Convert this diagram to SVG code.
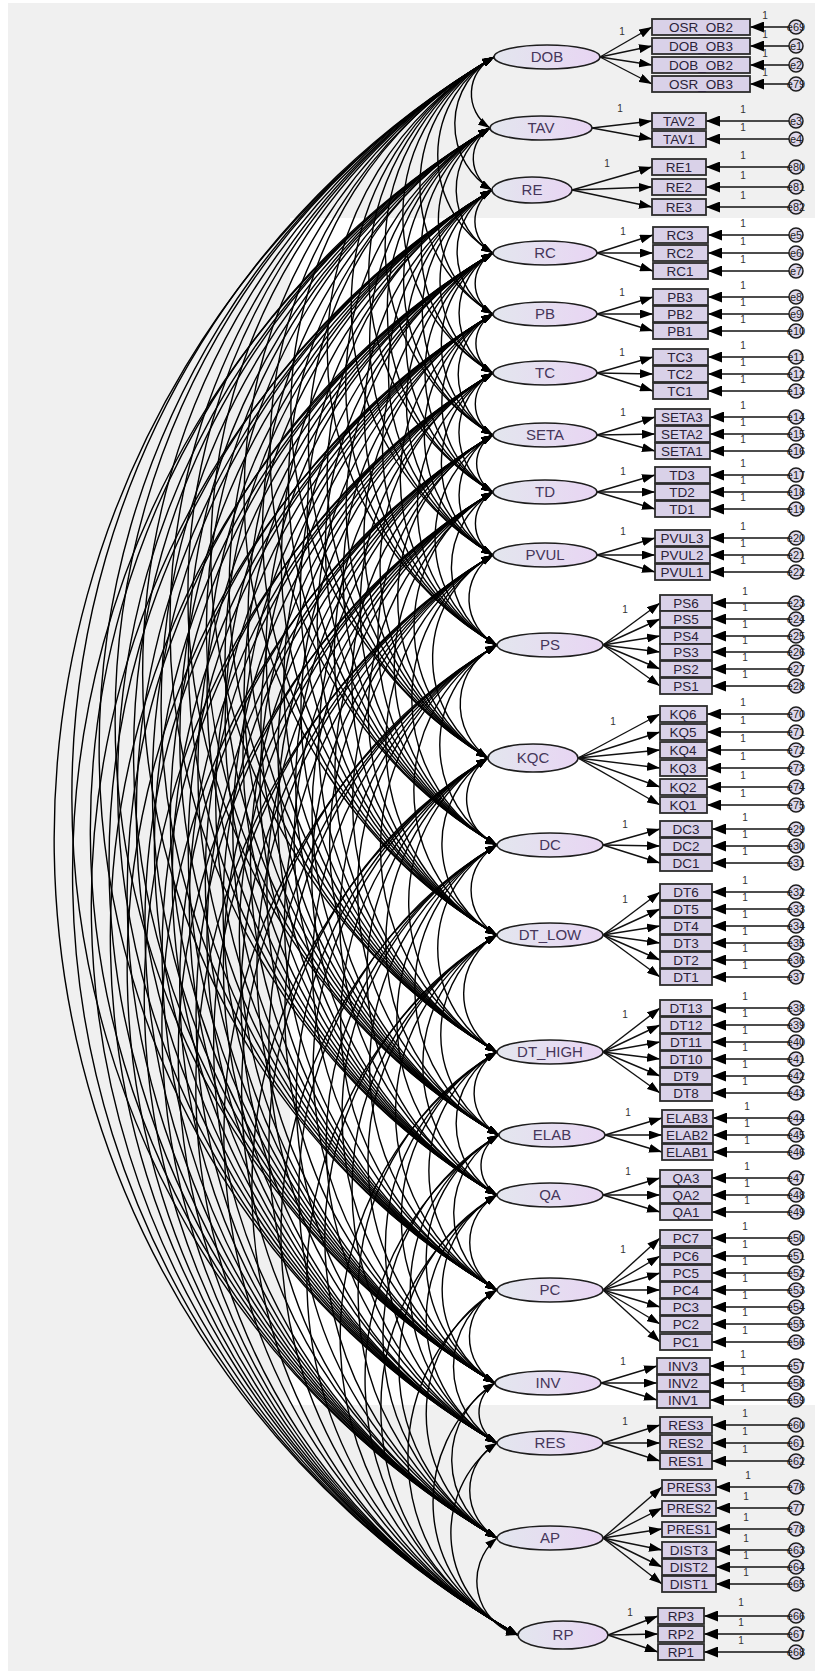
<svg xmlns="http://www.w3.org/2000/svg" width="815" height="1671" viewBox="0 0 815 1671">
<defs>
<linearGradient id="lg" x1="0" y1="0" x2="1" y2="0"><stop offset="0" stop-color="#e3e6ee"/><stop offset="1" stop-color="#e8d5f3"/></linearGradient>
<marker id="cov" markerUnits="userSpaceOnUse" markerWidth="12" markerHeight="8" refX="12" refY="4" orient="auto-start-reverse"><path d="M0,0L12,4L0,8z" fill="#000"/></marker>
<marker id="ld" markerUnits="userSpaceOnUse" markerWidth="13" markerHeight="9" refX="13" refY="4.5" orient="auto"><path d="M0,0L13,4.5L0,9z" fill="#000"/></marker>
<marker id="er" markerUnits="userSpaceOnUse" markerWidth="14" markerHeight="11" refX="14" refY="5.5" orient="auto"><path d="M0,0L14,5.5L0,11z" fill="#000"/></marker>
<style>
.cv path{fill:none;stroke:#000;stroke-width:1.4;marker-start:url(#cov);marker-end:url(#cov)}
.lo path{fill:none;stroke:#111;stroke-width:1.4;marker-end:url(#ld)}
.ea path{fill:none;stroke:#111;stroke-width:1.5;marker-end:url(#er)}
.lat ellipse{fill:url(#lg);stroke:#1e1e1e;stroke-width:1.6}
.lat text{font-family:"Liberation Sans",Arial,sans-serif;font-size:15px;fill:#45365a;text-anchor:middle}
.box rect{fill:#d9d1e8;stroke:#2c2c2c;stroke-width:1.8}
.box text{font-family:"Liberation Sans",Arial,sans-serif;font-size:13.5px;fill:#2a2238;text-anchor:middle}
.err circle{fill:#ddd7ea;stroke:#1e1e1e;stroke-width:1.5}
.err text{font-family:"Liberation Sans",Arial,sans-serif;font-size:11px;fill:#1e1e1e;text-anchor:middle}
.one{font-family:"Liberation Sans",Arial,sans-serif;font-size:10px;fill:#333;text-anchor:middle}
</style>
</defs>
<rect x="0" y="0" width="815" height="1671" fill="#ffffff"/>
<rect x="8" y="3" width="807" height="1668" fill="#f0f0f0"/>
<rect x="290" y="218" width="525" height="1187" fill="#ffffff"/>
<g id="connectors">
<g class="cv">
<path d="M494 57A41 41 0 0 0 490 128"/><path d="M494 57A77 77 0 0 0 492 190"/><path d="M494 57A114 114 0 0 0 493 253"/><path d="M494 57A149 149 0 0 0 493 314"/><path d="M494 57A183 183 0 0 0 493 373"/><path d="M494 57A219 219 0 0 0 493 435"/><path d="M494 57A252 252 0 0 0 493 492"/><path d="M494 57A289 289 0 0 0 493 555"/><path d="M494 57A341 341 0 0 0 497 645"/><path d="M494 57A407 407 0 0 0 488 758"/><path d="M494 57A457 457 0 0 0 497 845"/><path d="M494 57A509 509 0 0 0 497 935"/><path d="M494 57A577 577 0 0 0 497 1052"/><path d="M494 57A625 625 0 0 0 499 1135"/><path d="M494 57A660 660 0 0 0 497 1195"/><path d="M494 57A715 715 0 0 0 497 1290"/><path d="M494 57A769 769 0 0 0 495 1383"/><path d="M494 57A804 804 0 0 0 497 1443"/><path d="M494 57A859 859 0 0 0 497 1538"/><path d="M494 57A915 915 0 0 0 518 1635"/>
<path d="M490 128A36 36 0 0 0 492 190"/><path d="M490 128A73 73 0 0 0 493 253"/><path d="M490 128A108 108 0 0 0 493 314"/><path d="M490 128A142 142 0 0 0 493 373"/><path d="M490 128A178 178 0 0 0 493 435"/><path d="M490 128A211 211 0 0 0 493 492"/><path d="M490 128A248 248 0 0 0 493 555"/><path d="M490 128A300 300 0 0 0 497 645"/><path d="M490 128A365 365 0 0 0 488 758"/><path d="M490 128A416 416 0 0 0 497 845"/><path d="M490 128A468 468 0 0 0 497 935"/><path d="M490 128A536 536 0 0 0 497 1052"/><path d="M490 128A584 584 0 0 0 499 1135"/><path d="M490 128A619 619 0 0 0 497 1195"/><path d="M490 128A674 674 0 0 0 497 1290"/><path d="M490 128A728 728 0 0 0 495 1383"/><path d="M490 128A763 763 0 0 0 497 1443"/><path d="M490 128A818 818 0 0 0 497 1538"/><path d="M490 128A874 874 0 0 0 518 1635"/>
<path d="M492 190A37 37 0 0 0 493 253"/><path d="M492 190A72 72 0 0 0 493 314"/><path d="M492 190A106 106 0 0 0 493 373"/><path d="M492 190A142 142 0 0 0 493 435"/><path d="M492 190A175 175 0 0 0 493 492"/><path d="M492 190A212 212 0 0 0 493 555"/><path d="M492 190A264 264 0 0 0 497 645"/><path d="M492 190A329 329 0 0 0 488 758"/><path d="M492 190A380 380 0 0 0 497 845"/><path d="M492 190A432 432 0 0 0 497 935"/><path d="M492 190A500 500 0 0 0 497 1052"/><path d="M492 190A548 548 0 0 0 499 1135"/><path d="M492 190A583 583 0 0 0 497 1195"/><path d="M492 190A638 638 0 0 0 497 1290"/><path d="M492 190A692 692 0 0 0 495 1383"/><path d="M492 190A727 727 0 0 0 497 1443"/><path d="M492 190A782 782 0 0 0 497 1538"/><path d="M492 190A838 838 0 0 0 518 1635"/>
<path d="M493 253A35 35 0 0 0 493 314"/><path d="M493 253A70 70 0 0 0 493 373"/><path d="M493 253A106 106 0 0 0 493 435"/><path d="M493 253A139 139 0 0 0 493 492"/><path d="M493 253A175 175 0 0 0 493 555"/><path d="M493 253A227 227 0 0 0 497 645"/><path d="M493 253A293 293 0 0 0 488 758"/><path d="M493 253A343 343 0 0 0 497 845"/><path d="M493 253A396 396 0 0 0 497 935"/><path d="M493 253A463 463 0 0 0 497 1052"/><path d="M493 253A512 512 0 0 0 499 1135"/><path d="M493 253A546 546 0 0 0 497 1195"/><path d="M493 253A601 601 0 0 0 497 1290"/><path d="M493 253A655 655 0 0 0 495 1383"/><path d="M493 253A690 690 0 0 0 497 1443"/><path d="M493 253A745 745 0 0 0 497 1538"/><path d="M493 253A802 802 0 0 0 518 1635"/>
<path d="M493 314A34 34 0 0 0 493 373"/><path d="M493 314A70 70 0 0 0 493 435"/><path d="M493 314A103 103 0 0 0 493 492"/><path d="M493 314A140 140 0 0 0 493 555"/><path d="M493 314A192 192 0 0 0 497 645"/><path d="M493 314A258 258 0 0 0 488 758"/><path d="M493 314A308 308 0 0 0 497 845"/><path d="M493 314A360 360 0 0 0 497 935"/><path d="M493 314A428 428 0 0 0 497 1052"/><path d="M493 314A476 476 0 0 0 499 1135"/><path d="M493 314A511 511 0 0 0 497 1195"/><path d="M493 314A566 566 0 0 0 497 1290"/><path d="M493 314A620 620 0 0 0 495 1383"/><path d="M493 314A655 655 0 0 0 497 1443"/><path d="M493 314A710 710 0 0 0 497 1538"/><path d="M493 314A766 766 0 0 0 518 1635"/>
<path d="M493 373A36 36 0 0 0 493 435"/><path d="M493 373A69 69 0 0 0 493 492"/><path d="M493 373A106 106 0 0 0 493 555"/><path d="M493 373A158 158 0 0 0 497 645"/><path d="M493 373A223 223 0 0 0 488 758"/><path d="M493 373A274 274 0 0 0 497 845"/><path d="M493 373A326 326 0 0 0 497 935"/><path d="M493 373A394 394 0 0 0 497 1052"/><path d="M493 373A442 442 0 0 0 499 1135"/><path d="M493 373A477 477 0 0 0 497 1195"/><path d="M493 373A532 532 0 0 0 497 1290"/><path d="M493 373A586 586 0 0 0 495 1383"/><path d="M493 373A621 621 0 0 0 497 1443"/><path d="M493 373A676 676 0 0 0 497 1538"/><path d="M493 373A732 732 0 0 0 518 1635"/>
<path d="M493 435A33 33 0 0 0 493 492"/><path d="M493 435A70 70 0 0 0 493 555"/><path d="M493 435A122 122 0 0 0 497 645"/><path d="M493 435A187 187 0 0 0 488 758"/><path d="M493 435A238 238 0 0 0 497 845"/><path d="M493 435A290 290 0 0 0 497 935"/><path d="M493 435A358 358 0 0 0 497 1052"/><path d="M493 435A406 406 0 0 0 499 1135"/><path d="M493 435A441 441 0 0 0 497 1195"/><path d="M493 435A496 496 0 0 0 497 1290"/><path d="M493 435A550 550 0 0 0 495 1383"/><path d="M493 435A585 585 0 0 0 497 1443"/><path d="M493 435A640 640 0 0 0 497 1538"/><path d="M493 435A696 696 0 0 0 518 1635"/>
<path d="M493 492A37 37 0 0 0 493 555"/><path d="M493 492A89 89 0 0 0 497 645"/><path d="M493 492A154 154 0 0 0 488 758"/><path d="M493 492A205 205 0 0 0 497 845"/><path d="M493 492A257 257 0 0 0 497 935"/><path d="M493 492A325 325 0 0 0 497 1052"/><path d="M493 492A373 373 0 0 0 499 1135"/><path d="M493 492A408 408 0 0 0 497 1195"/><path d="M493 492A463 463 0 0 0 497 1290"/><path d="M493 492A517 517 0 0 0 495 1383"/><path d="M493 492A552 552 0 0 0 497 1443"/><path d="M493 492A607 607 0 0 0 497 1538"/><path d="M493 492A663 663 0 0 0 518 1635"/>
<path d="M493 555A52 52 0 0 0 497 645"/><path d="M493 555A118 118 0 0 0 488 758"/><path d="M493 555A168 168 0 0 0 497 845"/><path d="M493 555A220 220 0 0 0 497 935"/><path d="M493 555A288 288 0 0 0 497 1052"/><path d="M493 555A336 336 0 0 0 499 1135"/><path d="M493 555A371 371 0 0 0 497 1195"/><path d="M493 555A426 426 0 0 0 497 1290"/><path d="M493 555A480 480 0 0 0 495 1383"/><path d="M493 555A515 515 0 0 0 497 1443"/><path d="M493 555A570 570 0 0 0 497 1538"/><path d="M493 555A626 626 0 0 0 518 1635"/>
<path d="M497 645A66 66 0 0 0 488 758"/><path d="M497 645A116 116 0 0 0 497 845"/><path d="M497 645A168 168 0 0 0 497 935"/><path d="M497 645A236 236 0 0 0 497 1052"/><path d="M497 645A284 284 0 0 0 499 1135"/><path d="M497 645A319 319 0 0 0 497 1195"/><path d="M497 645A374 374 0 0 0 497 1290"/><path d="M497 645A428 428 0 0 0 495 1383"/><path d="M497 645A463 463 0 0 0 497 1443"/><path d="M497 645A518 518 0 0 0 497 1538"/><path d="M497 645A574 574 0 0 0 518 1635"/>
<path d="M488 758A50 50 0 0 0 497 845"/><path d="M488 758A103 103 0 0 0 497 935"/><path d="M488 758A171 171 0 0 0 497 1052"/><path d="M488 758A219 219 0 0 0 499 1135"/><path d="M488 758A253 253 0 0 0 497 1195"/><path d="M488 758A309 309 0 0 0 497 1290"/><path d="M488 758A363 363 0 0 0 495 1383"/><path d="M488 758A397 397 0 0 0 497 1443"/><path d="M488 758A452 452 0 0 0 497 1538"/><path d="M488 758A509 509 0 0 0 518 1635"/>
<path d="M497 845A52 52 0 0 0 497 935"/><path d="M497 845A120 120 0 0 0 497 1052"/><path d="M497 845A168 168 0 0 0 499 1135"/><path d="M497 845A203 203 0 0 0 497 1195"/><path d="M497 845A258 258 0 0 0 497 1290"/><path d="M497 845A312 312 0 0 0 495 1383"/><path d="M497 845A347 347 0 0 0 497 1443"/><path d="M497 845A402 402 0 0 0 497 1538"/><path d="M497 845A458 458 0 0 0 518 1635"/>
<path d="M497 935A68 68 0 0 0 497 1052"/><path d="M497 935A116 116 0 0 0 499 1135"/><path d="M497 935A151 151 0 0 0 497 1195"/><path d="M497 935A206 206 0 0 0 497 1290"/><path d="M497 935A260 260 0 0 0 495 1383"/><path d="M497 935A295 295 0 0 0 497 1443"/><path d="M497 935A350 350 0 0 0 497 1538"/><path d="M497 935A406 406 0 0 0 518 1635"/>
<path d="M497 1052A48 48 0 0 0 499 1135"/><path d="M497 1052A83 83 0 0 0 497 1195"/><path d="M497 1052A138 138 0 0 0 497 1290"/><path d="M497 1052A192 192 0 0 0 495 1383"/><path d="M497 1052A227 227 0 0 0 497 1443"/><path d="M497 1052A282 282 0 0 0 497 1538"/><path d="M497 1052A338 338 0 0 0 518 1635"/>
<path d="M499 1135A35 35 0 0 0 497 1195"/><path d="M499 1135A90 90 0 0 0 497 1290"/><path d="M499 1135A144 144 0 0 0 495 1383"/><path d="M499 1135A179 179 0 0 0 497 1443"/><path d="M499 1135A234 234 0 0 0 497 1538"/><path d="M499 1135A290 290 0 0 0 518 1635"/>
<path d="M497 1195A55 55 0 0 0 497 1290"/><path d="M497 1195A109 109 0 0 0 495 1383"/><path d="M497 1195A144 144 0 0 0 497 1443"/><path d="M497 1195A199 199 0 0 0 497 1538"/><path d="M497 1195A255 255 0 0 0 518 1635"/>
<path d="M497 1290A54 54 0 0 0 495 1383"/><path d="M497 1290A89 89 0 0 0 497 1443"/><path d="M497 1290A144 144 0 0 0 497 1538"/><path d="M497 1290A200 200 0 0 0 518 1635"/>
<path d="M495 1383A35 35 0 0 0 497 1443"/><path d="M495 1383A90 90 0 0 0 497 1538"/><path d="M495 1383A146 146 0 0 0 518 1635"/>
<path d="M497 1443A55 55 0 0 0 497 1538"/><path d="M497 1443A111 111 0 0 0 518 1635"/>
<path d="M497 1538A56 56 0 0 0 518 1635"/>
</g>
<g class="lo">
<path d="M600 57L652 27"/><path d="M600 57L652 46"/><path d="M600 57L652 65"/><path d="M600 57L652 84"/>
<path d="M592 128L652 121"/><path d="M592 128L652 139"/>
<path d="M572 190L652 167"/><path d="M572 190L652 187"/><path d="M572 190L652 207"/>
<path d="M597 253L653 235"/><path d="M597 253L653 253"/><path d="M597 253L653 271"/>
<path d="M597 314L653 297"/><path d="M597 314L653 314"/><path d="M597 314L653 331"/>
<path d="M597 373L653 357"/><path d="M597 373L653 374"/><path d="M597 373L653 391"/>
<path d="M597 435L655 417"/><path d="M597 435L655 434"/><path d="M597 435L655 451"/>
<path d="M597 492L655 475"/><path d="M597 492L655 492"/><path d="M597 492L655 509"/>
<path d="M597 555L655 538"/><path d="M597 555L655 555"/><path d="M597 555L655 572"/>
<path d="M603 645L660 603"/><path d="M603 645L660 619"/><path d="M603 645L660 636"/><path d="M603 645L660 652"/><path d="M603 645L660 669"/><path d="M603 645L660 686"/>
<path d="M578 758L660 714"/><path d="M578 758L660 732"/><path d="M578 758L660 750"/><path d="M578 758L660 768"/><path d="M578 758L660 787"/><path d="M578 758L660 805"/>
<path d="M603 845L660 829"/><path d="M603 845L660 846"/><path d="M603 845L660 863"/>
<path d="M603 935L660 892"/><path d="M603 935L660 909"/><path d="M603 935L660 926"/><path d="M603 935L660 943"/><path d="M603 935L660 960"/><path d="M603 935L660 977"/>
<path d="M603 1052L660 1008"/><path d="M603 1052L660 1025"/><path d="M603 1052L660 1042"/><path d="M603 1052L660 1059"/><path d="M603 1052L660 1076"/><path d="M603 1052L660 1093"/>
<path d="M605 1135L662 1118"/><path d="M605 1135L662 1135"/><path d="M605 1135L662 1152"/>
<path d="M603 1195L660 1178"/><path d="M603 1195L660 1195"/><path d="M603 1195L660 1212"/>
<path d="M603 1290L660 1238"/><path d="M603 1290L660 1256"/><path d="M603 1290L660 1273"/><path d="M603 1290L660 1290"/><path d="M603 1290L660 1307"/><path d="M603 1290L660 1324"/><path d="M603 1290L660 1342"/>
<path d="M601 1383L657 1366"/><path d="M601 1383L657 1383"/><path d="M601 1383L657 1400"/>
<path d="M603 1443L660 1425"/><path d="M603 1443L660 1443"/><path d="M603 1443L660 1461"/>
<path d="M603 1538L662 1487"/><path d="M603 1538L662 1508"/><path d="M603 1538L662 1529"/><path d="M603 1538L662 1550"/><path d="M603 1538L662 1567"/><path d="M603 1538L662 1584"/>
<path d="M608 1635L658 1616"/><path d="M608 1635L658 1634"/><path d="M608 1635L658 1652"/>
</g>
<g class="ea">
<path d="M789 27H750"/><path d="M789 46H750"/><path d="M789 65H750"/><path d="M789 84H750"/>
<path d="M789 121H706"/><path d="M789 139H706"/>
<path d="M789 167H706"/><path d="M789 187H706"/><path d="M789 207H706"/>
<path d="M789 235H708"/><path d="M789 253H708"/><path d="M789 271H708"/>
<path d="M789 297H708"/><path d="M789 314H708"/><path d="M789 331H708"/>
<path d="M789 357H708"/><path d="M789 374H708"/><path d="M789 391H708"/>
<path d="M789 417H710"/><path d="M789 434H710"/><path d="M789 451H710"/>
<path d="M789 475H710"/><path d="M789 492H710"/><path d="M789 509H710"/>
<path d="M789 538H710"/><path d="M789 555H710"/><path d="M789 572H710"/>
<path d="M789 603H712"/><path d="M789 619H712"/><path d="M789 636H712"/><path d="M789 652H712"/><path d="M789 669H712"/><path d="M789 686H712"/>
<path d="M789 714H707"/><path d="M789 732H707"/><path d="M789 750H707"/><path d="M789 768H707"/><path d="M789 787H707"/><path d="M789 805H707"/>
<path d="M789 829H712"/><path d="M789 846H712"/><path d="M789 863H712"/>
<path d="M789 892H712"/><path d="M789 909H712"/><path d="M789 926H712"/><path d="M789 943H712"/><path d="M789 960H712"/><path d="M789 977H712"/>
<path d="M789 1008H712"/><path d="M789 1025H712"/><path d="M789 1042H712"/><path d="M789 1059H712"/><path d="M789 1076H712"/><path d="M789 1093H712"/>
<path d="M789 1118H713"/><path d="M789 1135H713"/><path d="M789 1152H713"/>
<path d="M789 1178H712"/><path d="M789 1195H712"/><path d="M789 1212H712"/>
<path d="M789 1238H712"/><path d="M789 1256H712"/><path d="M789 1273H712"/><path d="M789 1290H712"/><path d="M789 1307H712"/><path d="M789 1324H712"/><path d="M789 1342H712"/>
<path d="M789 1366H710"/><path d="M789 1383H710"/><path d="M789 1400H710"/>
<path d="M789 1425H712"/><path d="M789 1443H712"/><path d="M789 1461H712"/>
<path d="M789 1487H716"/><path d="M789 1508H716"/><path d="M789 1529H716"/><path d="M789 1550H716"/><path d="M789 1567H716"/><path d="M789 1584H716"/>
<path d="M789 1616H704"/><path d="M789 1634H704"/><path d="M789 1652H704"/>
</g>
<g id="weights">
<text class="one" x="622" y="35">1</text><text class="one" x="620" y="112">1</text><text class="one" x="607" y="167">1</text><text class="one" x="623" y="235">1</text><text class="one" x="622" y="296">1</text><text class="one" x="622" y="356">1</text><text class="one" x="623" y="416">1</text><text class="one" x="623" y="475">1</text><text class="one" x="623" y="535">1</text><text class="one" x="625" y="613">1</text><text class="one" x="613" y="725">1</text><text class="one" x="625" y="828">1</text><text class="one" x="625" y="903">1</text><text class="one" x="625" y="1018">1</text><text class="one" x="628" y="1116">1</text><text class="one" x="628" y="1175">1</text><text class="one" x="623" y="1253">1</text><text class="one" x="623" y="1365">1</text><text class="one" x="625" y="1425">1</text><text class="one" x="630" y="1616">1</text>
<text class="one" x="765" y="19">1</text><text class="one" x="765" y="38">1</text><text class="one" x="765" y="57">1</text><text class="one" x="765" y="76">1</text>
<text class="one" x="743" y="113">1</text><text class="one" x="743" y="131">1</text>
<text class="one" x="743" y="159">1</text><text class="one" x="743" y="179">1</text><text class="one" x="743" y="199">1</text>
<text class="one" x="743" y="227">1</text><text class="one" x="743" y="245">1</text><text class="one" x="743" y="263">1</text>
<text class="one" x="743" y="289">1</text><text class="one" x="743" y="306">1</text><text class="one" x="743" y="323">1</text>
<text class="one" x="743" y="349">1</text><text class="one" x="743" y="366">1</text><text class="one" x="743" y="383">1</text>
<text class="one" x="743" y="409">1</text><text class="one" x="743" y="426">1</text><text class="one" x="743" y="443">1</text>
<text class="one" x="743" y="467">1</text><text class="one" x="743" y="484">1</text><text class="one" x="743" y="501">1</text>
<text class="one" x="743" y="530">1</text><text class="one" x="743" y="547">1</text><text class="one" x="743" y="564">1</text>
<text class="one" x="745" y="595">1</text><text class="one" x="745" y="611">1</text><text class="one" x="745" y="628">1</text><text class="one" x="745" y="644">1</text><text class="one" x="745" y="661">1</text><text class="one" x="745" y="678">1</text>
<text class="one" x="743" y="706">1</text><text class="one" x="743" y="724">1</text><text class="one" x="743" y="742">1</text><text class="one" x="743" y="760">1</text><text class="one" x="743" y="779">1</text><text class="one" x="743" y="797">1</text>
<text class="one" x="745" y="821">1</text><text class="one" x="745" y="838">1</text><text class="one" x="745" y="855">1</text>
<text class="one" x="745" y="884">1</text><text class="one" x="745" y="901">1</text><text class="one" x="745" y="918">1</text><text class="one" x="745" y="935">1</text><text class="one" x="745" y="952">1</text><text class="one" x="745" y="969">1</text>
<text class="one" x="745" y="1000">1</text><text class="one" x="745" y="1017">1</text><text class="one" x="745" y="1034">1</text><text class="one" x="745" y="1051">1</text><text class="one" x="745" y="1068">1</text><text class="one" x="745" y="1085">1</text>
<text class="one" x="747" y="1110">1</text><text class="one" x="747" y="1127">1</text><text class="one" x="747" y="1144">1</text>
<text class="one" x="747" y="1170">1</text><text class="one" x="747" y="1187">1</text><text class="one" x="747" y="1204">1</text>
<text class="one" x="745" y="1230">1</text><text class="one" x="745" y="1248">1</text><text class="one" x="745" y="1265">1</text><text class="one" x="745" y="1282">1</text><text class="one" x="745" y="1299">1</text><text class="one" x="745" y="1316">1</text><text class="one" x="745" y="1334">1</text>
<text class="one" x="743" y="1358">1</text><text class="one" x="743" y="1375">1</text><text class="one" x="743" y="1392">1</text>
<text class="one" x="745" y="1417">1</text><text class="one" x="745" y="1435">1</text><text class="one" x="745" y="1453">1</text>
<text class="one" x="748" y="1479">1</text><text class="one" x="746" y="1500">1</text><text class="one" x="746" y="1521">1</text><text class="one" x="746" y="1542">1</text><text class="one" x="746" y="1559">1</text><text class="one" x="746" y="1576">1</text>
<text class="one" x="741" y="1606">1</text><text class="one" x="741" y="1626">1</text><text class="one" x="741" y="1644">1</text>
</g>
</g>
<g id="latents" class="lat">
<g id="DOB"><ellipse cx="547" cy="57" rx="53" ry="12"/><text x="547" y="62">DOB</text></g>
<g id="TAV"><ellipse cx="541" cy="128" rx="51" ry="12"/><text x="541" y="133">TAV</text></g>
<g id="RE"><ellipse cx="532" cy="190" rx="40" ry="13"/><text x="532" y="195">RE</text></g>
<g id="RC"><ellipse cx="545" cy="253" rx="52" ry="12"/><text x="545" y="258">RC</text></g>
<g id="PB"><ellipse cx="545" cy="314" rx="52" ry="12"/><text x="545" y="319">PB</text></g>
<g id="TC"><ellipse cx="545" cy="373" rx="52" ry="12"/><text x="545" y="378">TC</text></g>
<g id="SETA"><ellipse cx="545" cy="435" rx="52" ry="12"/><text x="545" y="440">SETA</text></g>
<g id="TD"><ellipse cx="545" cy="492" rx="52" ry="12"/><text x="545" y="497">TD</text></g>
<g id="PVUL"><ellipse cx="545" cy="555" rx="52" ry="12"/><text x="545" y="560">PVUL</text></g>
<g id="PS"><ellipse cx="550" cy="645" rx="53" ry="12"/><text x="550" y="650">PS</text></g>
<g id="KQC"><ellipse cx="533" cy="758" rx="45" ry="14"/><text x="533" y="763">KQC</text></g>
<g id="DC"><ellipse cx="550" cy="845" rx="53" ry="12"/><text x="550" y="850">DC</text></g>
<g id="DT_LOW"><ellipse cx="550" cy="935" rx="53" ry="12"/><text x="550" y="940">DT_LOW</text></g>
<g id="DT_HIGH"><ellipse cx="550" cy="1052" rx="53" ry="12"/><text x="550" y="1057">DT_HIGH</text></g>
<g id="ELAB"><ellipse cx="552" cy="1135" rx="53" ry="12"/><text x="552" y="1140">ELAB</text></g>
<g id="QA"><ellipse cx="550" cy="1195" rx="53" ry="12"/><text x="550" y="1200">QA</text></g>
<g id="PC"><ellipse cx="550" cy="1290" rx="53" ry="12"/><text x="550" y="1295">PC</text></g>
<g id="INV"><ellipse cx="548" cy="1383" rx="53" ry="12"/><text x="548" y="1388">INV</text></g>
<g id="RES"><ellipse cx="550" cy="1443" rx="53" ry="12"/><text x="550" y="1448">RES</text></g>
<g id="AP"><ellipse cx="550" cy="1538" rx="53" ry="12"/><text x="550" y="1543">AP</text></g>
<g id="RP"><ellipse cx="563" cy="1635" rx="45" ry="14"/><text x="563" y="1640">RP</text></g>
</g>
<g id="indicators" class="box">
<g id="OSR_OB2"><rect x="652" y="19" width="98" height="16"/><text x="701" y="32">OSR_OB2</text></g>
<g id="DOB_OB3"><rect x="652" y="38" width="98" height="16"/><text x="701" y="51">DOB_OB3</text></g>
<g id="DOB_OB2"><rect x="652" y="57" width="98" height="16"/><text x="701" y="70">DOB_OB2</text></g>
<g id="OSR_OB3"><rect x="652" y="76" width="98" height="16"/><text x="701" y="89">OSR_OB3</text></g>
<g id="TAV2"><rect x="652" y="113" width="54" height="16"/><text x="679" y="126">TAV2</text></g>
<g id="TAV1"><rect x="652" y="131" width="54" height="16"/><text x="679" y="144">TAV1</text></g>
<g id="RE1"><rect x="652" y="159" width="54" height="16"/><text x="679" y="172">RE1</text></g>
<g id="RE2"><rect x="652" y="179" width="54" height="16"/><text x="679" y="192">RE2</text></g>
<g id="RE3"><rect x="652" y="199" width="54" height="16"/><text x="679" y="212">RE3</text></g>
<g id="RC3"><rect x="653" y="227" width="55" height="16"/><text x="680" y="240">RC3</text></g>
<g id="RC2"><rect x="653" y="245" width="55" height="16"/><text x="680" y="258">RC2</text></g>
<g id="RC1"><rect x="653" y="263" width="55" height="16"/><text x="680" y="276">RC1</text></g>
<g id="PB3"><rect x="653" y="289" width="55" height="16"/><text x="680" y="302">PB3</text></g>
<g id="PB2"><rect x="653" y="306" width="55" height="16"/><text x="680" y="319">PB2</text></g>
<g id="PB1"><rect x="653" y="323" width="55" height="16"/><text x="680" y="336">PB1</text></g>
<g id="TC3"><rect x="653" y="349" width="55" height="16"/><text x="680" y="362">TC3</text></g>
<g id="TC2"><rect x="653" y="366" width="55" height="16"/><text x="680" y="379">TC2</text></g>
<g id="TC1"><rect x="653" y="383" width="55" height="16"/><text x="680" y="396">TC1</text></g>
<g id="SETA3"><rect x="655" y="409" width="55" height="16"/><text x="682" y="422">SETA3</text></g>
<g id="SETA2"><rect x="655" y="426" width="55" height="16"/><text x="682" y="439">SETA2</text></g>
<g id="SETA1"><rect x="655" y="443" width="55" height="16"/><text x="682" y="456">SETA1</text></g>
<g id="TD3"><rect x="655" y="467" width="55" height="16"/><text x="682" y="480">TD3</text></g>
<g id="TD2"><rect x="655" y="484" width="55" height="16"/><text x="682" y="497">TD2</text></g>
<g id="TD1"><rect x="655" y="501" width="55" height="16"/><text x="682" y="514">TD1</text></g>
<g id="PVUL3"><rect x="655" y="530" width="55" height="16"/><text x="682" y="543">PVUL3</text></g>
<g id="PVUL2"><rect x="655" y="547" width="55" height="16"/><text x="682" y="560">PVUL2</text></g>
<g id="PVUL1"><rect x="655" y="564" width="55" height="16"/><text x="682" y="577">PVUL1</text></g>
<g id="PS6"><rect x="660" y="595" width="52" height="16"/><text x="686" y="608">PS6</text></g>
<g id="PS5"><rect x="660" y="611" width="52" height="16"/><text x="686" y="624">PS5</text></g>
<g id="PS4"><rect x="660" y="628" width="52" height="16"/><text x="686" y="641">PS4</text></g>
<g id="PS3"><rect x="660" y="644" width="52" height="16"/><text x="686" y="657">PS3</text></g>
<g id="PS2"><rect x="660" y="661" width="52" height="16"/><text x="686" y="674">PS2</text></g>
<g id="PS1"><rect x="660" y="678" width="52" height="16"/><text x="686" y="691">PS1</text></g>
<g id="KQ6"><rect x="660" y="706" width="47" height="16"/><text x="683" y="719">KQ6</text></g>
<g id="KQ5"><rect x="660" y="724" width="47" height="16"/><text x="683" y="737">KQ5</text></g>
<g id="KQ4"><rect x="660" y="742" width="47" height="16"/><text x="683" y="755">KQ4</text></g>
<g id="KQ3"><rect x="660" y="760" width="47" height="16"/><text x="683" y="773">KQ3</text></g>
<g id="KQ2"><rect x="660" y="779" width="47" height="16"/><text x="683" y="792">KQ2</text></g>
<g id="KQ1"><rect x="660" y="797" width="47" height="16"/><text x="683" y="810">KQ1</text></g>
<g id="DC3"><rect x="660" y="821" width="52" height="16"/><text x="686" y="834">DC3</text></g>
<g id="DC2"><rect x="660" y="838" width="52" height="16"/><text x="686" y="851">DC2</text></g>
<g id="DC1"><rect x="660" y="855" width="52" height="16"/><text x="686" y="868">DC1</text></g>
<g id="DT6"><rect x="660" y="884" width="52" height="16"/><text x="686" y="897">DT6</text></g>
<g id="DT5"><rect x="660" y="901" width="52" height="16"/><text x="686" y="914">DT5</text></g>
<g id="DT4"><rect x="660" y="918" width="52" height="16"/><text x="686" y="931">DT4</text></g>
<g id="DT3"><rect x="660" y="935" width="52" height="16"/><text x="686" y="948">DT3</text></g>
<g id="DT2"><rect x="660" y="952" width="52" height="16"/><text x="686" y="965">DT2</text></g>
<g id="DT1"><rect x="660" y="969" width="52" height="16"/><text x="686" y="982">DT1</text></g>
<g id="DT13"><rect x="660" y="1000" width="52" height="16"/><text x="686" y="1013">DT13</text></g>
<g id="DT12"><rect x="660" y="1017" width="52" height="16"/><text x="686" y="1030">DT12</text></g>
<g id="DT11"><rect x="660" y="1034" width="52" height="16"/><text x="686" y="1047">DT11</text></g>
<g id="DT10"><rect x="660" y="1051" width="52" height="16"/><text x="686" y="1064">DT10</text></g>
<g id="DT9"><rect x="660" y="1068" width="52" height="16"/><text x="686" y="1081">DT9</text></g>
<g id="DT8"><rect x="660" y="1085" width="52" height="16"/><text x="686" y="1098">DT8</text></g>
<g id="ELAB3"><rect x="662" y="1110" width="51" height="16"/><text x="687" y="1123">ELAB3</text></g>
<g id="ELAB2"><rect x="662" y="1127" width="51" height="16"/><text x="687" y="1140">ELAB2</text></g>
<g id="ELAB1"><rect x="662" y="1144" width="51" height="16"/><text x="687" y="1157">ELAB1</text></g>
<g id="QA3"><rect x="660" y="1170" width="52" height="16"/><text x="686" y="1183">QA3</text></g>
<g id="QA2"><rect x="660" y="1187" width="52" height="16"/><text x="686" y="1200">QA2</text></g>
<g id="QA1"><rect x="660" y="1204" width="52" height="16"/><text x="686" y="1217">QA1</text></g>
<g id="PC7"><rect x="660" y="1230" width="52" height="16"/><text x="686" y="1243">PC7</text></g>
<g id="PC6"><rect x="660" y="1248" width="52" height="16"/><text x="686" y="1261">PC6</text></g>
<g id="PC5"><rect x="660" y="1265" width="52" height="16"/><text x="686" y="1278">PC5</text></g>
<g id="PC4"><rect x="660" y="1282" width="52" height="16"/><text x="686" y="1295">PC4</text></g>
<g id="PC3"><rect x="660" y="1299" width="52" height="16"/><text x="686" y="1312">PC3</text></g>
<g id="PC2"><rect x="660" y="1316" width="52" height="16"/><text x="686" y="1329">PC2</text></g>
<g id="PC1"><rect x="660" y="1334" width="52" height="16"/><text x="686" y="1347">PC1</text></g>
<g id="INV3"><rect x="657" y="1358" width="53" height="16"/><text x="683" y="1371">INV3</text></g>
<g id="INV2"><rect x="657" y="1375" width="53" height="16"/><text x="683" y="1388">INV2</text></g>
<g id="INV1"><rect x="657" y="1392" width="53" height="16"/><text x="683" y="1405">INV1</text></g>
<g id="RES3"><rect x="660" y="1417" width="52" height="16"/><text x="686" y="1430">RES3</text></g>
<g id="RES2"><rect x="660" y="1435" width="52" height="16"/><text x="686" y="1448">RES2</text></g>
<g id="RES1"><rect x="660" y="1453" width="52" height="16"/><text x="686" y="1466">RES1</text></g>
<g id="PRES3"><rect x="662" y="1480" width="54" height="15"/><text x="689" y="1492">PRES3</text></g>
<g id="PRES2"><rect x="662" y="1501" width="54" height="15"/><text x="689" y="1513">PRES2</text></g>
<g id="PRES1"><rect x="662" y="1522" width="54" height="15"/><text x="689" y="1534">PRES1</text></g>
<g id="DIST3"><rect x="662" y="1542" width="54" height="16"/><text x="689" y="1555">DIST3</text></g>
<g id="DIST2"><rect x="662" y="1559" width="54" height="16"/><text x="689" y="1572">DIST2</text></g>
<g id="DIST1"><rect x="662" y="1576" width="54" height="16"/><text x="689" y="1589">DIST1</text></g>
<g id="RP3"><rect x="658" y="1608" width="46" height="16"/><text x="681" y="1621">RP3</text></g>
<g id="RP2"><rect x="658" y="1626" width="46" height="16"/><text x="681" y="1639">RP2</text></g>
<g id="RP1"><rect x="658" y="1644" width="46" height="16"/><text x="681" y="1657">RP1</text></g>
</g>
<g id="errors" class="err">
<g id="e69"><circle cx="796" cy="27" r="7"/><text x="796" y="31">e69</text></g>
<g id="e1"><circle cx="796" cy="46" r="7"/><text x="796" y="50">e1</text></g>
<g id="e2"><circle cx="796" cy="65" r="7"/><text x="796" y="69">e2</text></g>
<g id="e79"><circle cx="796" cy="84" r="7"/><text x="796" y="88">e79</text></g>
<g id="e3"><circle cx="796" cy="121" r="7"/><text x="796" y="125">e3</text></g>
<g id="e4"><circle cx="796" cy="139" r="7"/><text x="796" y="143">e4</text></g>
<g id="e80"><circle cx="796" cy="167" r="7"/><text x="796" y="171">e80</text></g>
<g id="e81"><circle cx="796" cy="187" r="7"/><text x="796" y="191">e81</text></g>
<g id="e82"><circle cx="796" cy="207" r="7"/><text x="796" y="211">e82</text></g>
<g id="e5"><circle cx="796" cy="235" r="7"/><text x="796" y="239">e5</text></g>
<g id="e6"><circle cx="796" cy="253" r="7"/><text x="796" y="257">e6</text></g>
<g id="e7"><circle cx="796" cy="271" r="7"/><text x="796" y="275">e7</text></g>
<g id="e8"><circle cx="796" cy="297" r="7"/><text x="796" y="301">e8</text></g>
<g id="e9"><circle cx="796" cy="314" r="7"/><text x="796" y="318">e9</text></g>
<g id="e10"><circle cx="796" cy="331" r="7"/><text x="796" y="335">e10</text></g>
<g id="e11"><circle cx="796" cy="357" r="7"/><text x="796" y="361">e11</text></g>
<g id="e12"><circle cx="796" cy="374" r="7"/><text x="796" y="378">e12</text></g>
<g id="e13"><circle cx="796" cy="391" r="7"/><text x="796" y="395">e13</text></g>
<g id="e14"><circle cx="796" cy="417" r="7"/><text x="796" y="421">e14</text></g>
<g id="e15"><circle cx="796" cy="434" r="7"/><text x="796" y="438">e15</text></g>
<g id="e16"><circle cx="796" cy="451" r="7"/><text x="796" y="455">e16</text></g>
<g id="e17"><circle cx="796" cy="475" r="7"/><text x="796" y="479">e17</text></g>
<g id="e18"><circle cx="796" cy="492" r="7"/><text x="796" y="496">e18</text></g>
<g id="e19"><circle cx="796" cy="509" r="7"/><text x="796" y="513">e19</text></g>
<g id="e20"><circle cx="796" cy="538" r="7"/><text x="796" y="542">e20</text></g>
<g id="e21"><circle cx="796" cy="555" r="7"/><text x="796" y="559">e21</text></g>
<g id="e22"><circle cx="796" cy="572" r="7"/><text x="796" y="576">e22</text></g>
<g id="e23"><circle cx="796" cy="603" r="7"/><text x="796" y="607">e23</text></g>
<g id="e24"><circle cx="796" cy="619" r="7"/><text x="796" y="623">e24</text></g>
<g id="e25"><circle cx="796" cy="636" r="7"/><text x="796" y="640">e25</text></g>
<g id="e26"><circle cx="796" cy="652" r="7"/><text x="796" y="656">e26</text></g>
<g id="e27"><circle cx="796" cy="669" r="7"/><text x="796" y="673">e27</text></g>
<g id="e28"><circle cx="796" cy="686" r="7"/><text x="796" y="690">e28</text></g>
<g id="e70"><circle cx="796" cy="714" r="7"/><text x="796" y="718">e70</text></g>
<g id="e71"><circle cx="796" cy="732" r="7"/><text x="796" y="736">e71</text></g>
<g id="e72"><circle cx="796" cy="750" r="7"/><text x="796" y="754">e72</text></g>
<g id="e73"><circle cx="796" cy="768" r="7"/><text x="796" y="772">e73</text></g>
<g id="e74"><circle cx="796" cy="787" r="7"/><text x="796" y="791">e74</text></g>
<g id="e75"><circle cx="796" cy="805" r="7"/><text x="796" y="809">e75</text></g>
<g id="e29"><circle cx="796" cy="829" r="7"/><text x="796" y="833">e29</text></g>
<g id="e30"><circle cx="796" cy="846" r="7"/><text x="796" y="850">e30</text></g>
<g id="e31"><circle cx="796" cy="863" r="7"/><text x="796" y="867">e31</text></g>
<g id="e32"><circle cx="796" cy="892" r="7"/><text x="796" y="896">e32</text></g>
<g id="e33"><circle cx="796" cy="909" r="7"/><text x="796" y="913">e33</text></g>
<g id="e34"><circle cx="796" cy="926" r="7"/><text x="796" y="930">e34</text></g>
<g id="e35"><circle cx="796" cy="943" r="7"/><text x="796" y="947">e35</text></g>
<g id="e36"><circle cx="796" cy="960" r="7"/><text x="796" y="964">e36</text></g>
<g id="e37"><circle cx="796" cy="977" r="7"/><text x="796" y="981">e37</text></g>
<g id="e38"><circle cx="796" cy="1008" r="7"/><text x="796" y="1012">e38</text></g>
<g id="e39"><circle cx="796" cy="1025" r="7"/><text x="796" y="1029">e39</text></g>
<g id="e40"><circle cx="796" cy="1042" r="7"/><text x="796" y="1046">e40</text></g>
<g id="e41"><circle cx="796" cy="1059" r="7"/><text x="796" y="1063">e41</text></g>
<g id="e42"><circle cx="796" cy="1076" r="7"/><text x="796" y="1080">e42</text></g>
<g id="e43"><circle cx="796" cy="1093" r="7"/><text x="796" y="1097">e43</text></g>
<g id="e44"><circle cx="796" cy="1118" r="7"/><text x="796" y="1122">e44</text></g>
<g id="e45"><circle cx="796" cy="1135" r="7"/><text x="796" y="1139">e45</text></g>
<g id="e46"><circle cx="796" cy="1152" r="7"/><text x="796" y="1156">e46</text></g>
<g id="e47"><circle cx="796" cy="1178" r="7"/><text x="796" y="1182">e47</text></g>
<g id="e48"><circle cx="796" cy="1195" r="7"/><text x="796" y="1199">e48</text></g>
<g id="e49"><circle cx="796" cy="1212" r="7"/><text x="796" y="1216">e49</text></g>
<g id="e50"><circle cx="796" cy="1238" r="7"/><text x="796" y="1242">e50</text></g>
<g id="e51"><circle cx="796" cy="1256" r="7"/><text x="796" y="1260">e51</text></g>
<g id="e52"><circle cx="796" cy="1273" r="7"/><text x="796" y="1277">e52</text></g>
<g id="e53"><circle cx="796" cy="1290" r="7"/><text x="796" y="1294">e53</text></g>
<g id="e54"><circle cx="796" cy="1307" r="7"/><text x="796" y="1311">e54</text></g>
<g id="e55"><circle cx="796" cy="1324" r="7"/><text x="796" y="1328">e55</text></g>
<g id="e56"><circle cx="796" cy="1342" r="7"/><text x="796" y="1346">e56</text></g>
<g id="e57"><circle cx="796" cy="1366" r="7"/><text x="796" y="1370">e57</text></g>
<g id="e58"><circle cx="796" cy="1383" r="7"/><text x="796" y="1387">e58</text></g>
<g id="e59"><circle cx="796" cy="1400" r="7"/><text x="796" y="1404">e59</text></g>
<g id="e60"><circle cx="796" cy="1425" r="7"/><text x="796" y="1429">e60</text></g>
<g id="e61"><circle cx="796" cy="1443" r="7"/><text x="796" y="1447">e61</text></g>
<g id="e62"><circle cx="796" cy="1461" r="7"/><text x="796" y="1465">e62</text></g>
<g id="e76"><circle cx="796" cy="1487" r="7"/><text x="796" y="1491">e76</text></g>
<g id="e77"><circle cx="796" cy="1508" r="7"/><text x="796" y="1512">e77</text></g>
<g id="e78"><circle cx="796" cy="1529" r="7"/><text x="796" y="1533">e78</text></g>
<g id="e63"><circle cx="796" cy="1550" r="7"/><text x="796" y="1554">e63</text></g>
<g id="e64"><circle cx="796" cy="1567" r="7"/><text x="796" y="1571">e64</text></g>
<g id="e65"><circle cx="796" cy="1584" r="7"/><text x="796" y="1588">e65</text></g>
<g id="e66"><circle cx="796" cy="1616" r="7"/><text x="796" y="1620">e66</text></g>
<g id="e67"><circle cx="796" cy="1634" r="7"/><text x="796" y="1638">e67</text></g>
<g id="e68"><circle cx="796" cy="1652" r="7"/><text x="796" y="1656">e68</text></g>
</g>
</svg>
